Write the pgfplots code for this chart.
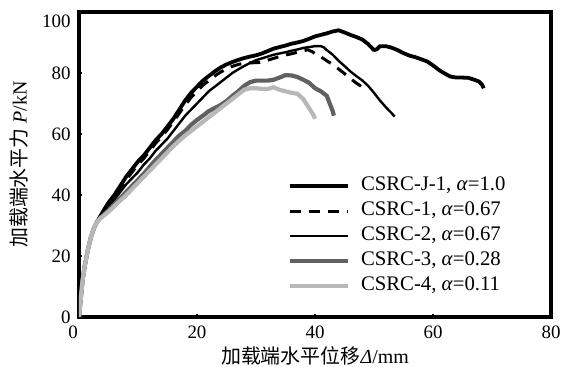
\documentclass[border=0pt]{standalone}
\usepackage{fontspec}
\setmainfont{Liberation Serif}
\newfontfamily\cjk{Noto Sans CJK SC}
\usepackage{pgfplots}
\pgfplotsset{compat=1.18}
\begin{document}
\begin{tikzpicture}
\begin{axis}[
  scale only axis, width=472bp, height=305bp,
  xmin=0, xmax=80, ymin=0, ymax=100,
  xtick={0,20,...,80}, ytick={0,20,...,100},
  xticklabels={\hspace*{-12bp}0,20,40,60,80},
  yticklabels={0,20,40,60,80,\raisebox{-9bp}[\height][\depth]{100}},
  tick pos=left, tick align=inside, major tick length=3.5bp,
  every tick/.style={black, line width=2.2bp},
  axis line style={line width=3.5bp},
  tick label style={font=\fontsize{19}{22}\selectfont},
  xticklabel style={yshift=-5bp},
  yticklabel style={xshift=-5bp},
  /pgf/number format/assume math mode=true,
  xlabel={{\cjk 加载端水平位移}\textit{Δ}/mm},
  ylabel={{\cjk 加载端水平力} \textit{P}/kN},
  label style={font=\fontsize{20}{24}\selectfont},
  xlabel style={yshift=-1bp},
  ylabel style={yshift=7bp},
  legend cell align=left,
  legend image code/.code={\draw[#1] (0bp,0bp) -- (58bp,0bp); \path (69bp,0bp);},
  legend style={at={(0.442,0.459)}, anchor=north west, draw=none, fill=none,
    inner sep=0pt, row sep=6.9bp, column sep=0pt,
    font=\fontsize{20.8}{24}\selectfont,
    nodes={inner sep=0pt, text height=13.5bp, text depth=4.5bp}},
]
\coordinate (O) at (rel axis cs:0,0);
% CSRC-J-1
\addplot[black, line width=3.8bp, line join=round] coordinates {
(0,0)(0.3,6)(0.6,12)(1,17)(1.5,22)(2,26)(2.5,29)(3,31)(3.6,33)(4.2,35)
(5,37.5)(6,40)(7,43)(8,46)(9,48.5)(10,51)(11,53)(12,55.5)(13,58)(14,60)
(15,62.5)(16,65)(17,68)(18,71)(19,73.5)(20,75.5)(21,77.5)(22,79)(23,80.5)
(24,81.8)(25,82.8)(26,83.6)(27,84.3)(28,84.9)(29,85.4)(30,85.8)(31,86.4)
(32,87.2)(33,88)(34,88.5)(35,89)(36,89.6)(37,90)(38,90.5)(39,91.2)(40,92)
(41,92.5)(42,93)(43,93.6)(44,94)(45,93.3)(46,92.5)(47,91.8)(48,91)(49,89.5)
(50,87.5)(50.5,87.8)(51,88.8)(52,88.8)(53,88.3)(54,87.5)(55,86.5)(56,85.7)
(57,85.2)(58,84.5)(59,83.8)(60,82.5)(61,81)(62,79.8)(63,78.8)(64,78.5)
(65,78.5)(66,78.4)(67,77.8)(67.8,77.2)(68.3,76.2)(68.6,75)
};
\addlegendentry{CSRC-J-1, \textit{α}=1.0}
% CSRC-1
\addplot[black, line width=3bp, dash pattern=on 11bp off 8bp] coordinates {
(0,0)(0.3,6)(0.6,12)(1,17)(1.5,22)(2,26)(2.5,29)(3,31)(3.6,33)(4.2,34.8)
(5,37)(6,39.5)(7,42.3)(8,45)(9,47.5)(10,50)(11,52)(12,54.5)(13,57)(14,59)
(15,61.5)(16,64)(17,66.8)(18,69.5)(19,72)(20,74)(21,76)(22,77.5)(23,79)
(24,80.3)(25,81.3)(26,82.2)(27,82.8)(28,83.2)(29,83.3)(30,83.4)(31,83.5)
(32,84.2)(33,84.8)(34,85.4)(35,85.9)(36,86.3)(37,86.8)(38,87.3)(38.8,87.6)
(39.5,87)(40.3,86)(41,85.3)(42,84)(43,82.8)(44,81.3)(45,79.8)(46,78.2)
(47,76.7)(48,75.4)(48.6,74.5)
};
\addlegendentry{CSRC-1, \textit{α}=0.67}
% CSRC-2
\addplot[black, line width=2.4bp] coordinates {
(0,0)(0.3,6)(0.6,12)(1,17)(1.5,22)(2,26)(2.5,29)(3,31)(3.6,33)(4.2,34.5)
(5,36)(6,38.5)(7,41)(8,43.5)(9,45.5)(10,47.5)(11,50)(12,52)(13,54.5)
(14,56.5)(15,58.5)(16,61)(17,63.5)(18,66)(19,68)(20,70)(21,72)(22,74)
(23,75.5)(24,77)(25,78.5)(26,80)(27,81.2)(28,82.3)(29,83.3)(30,84.2)
(31,84.8)(32,85.4)(33,86)(34,86.4)(35,86.8)(36,87.3)(37,87.7)(38,88.2)
(39,88.5)(40,88.8)(41,88.8)(41.5,88.4)(42,87.5)(43,86)(44,84)(45,82.3)
(46,80.5)(47,79)(48,77.6)(49,75.8)(50,73.5)(51,71)(52,68.8)(53,66.8)(53.5,65.7)
};
\addlegendentry{CSRC-2, \textit{α}=0.67}
% CSRC-3
\addplot[black!62, line width=4.2bp] coordinates {
(0,0)(0.3,6)(0.6,12)(1,17)(1.5,22)(2,26)(2.5,29)(3,31)(3.6,32.5)(4.2,33.5)
(5,35)(6,37)(7,39)(8,41)(9,43)(10,45)(11,47)(12,49.3)(13,51.5)(14,53.5)
(15,55.5)(16,57.5)(17,59.5)(18,61)(19,63)(20,64.6)(21,66)(22,67.5)(23,68.5)
(24,69.5)(25,70.8)(26,72.5)(27,74)(28,75.8)(29,77)(30,77.5)(31,77.5)(32,77.5)
(33,77.8)(34,78.5)(35,79.3)(36,79.2)(37,78.7)(38,77.8)(39,76.8)(40,75)
(41,74)(42,72.5)(42.5,70)(43,67.5)(43.2,66)
};
\addlegendentry{CSRC-3, \textit{α}=0.28}
% CSRC-4
\addplot[black!28, line width=4.2bp] coordinates {
(0,0)(0.3,6)(0.6,12)(1,17)(1.5,22)(2,26)(2.5,29)(3,31)(3.6,32.3)(4.2,33.2)
(5,34.5)(6,36.3)(7,38.2)(8,40)(9,42)(10,44)(11,46)(12,48)(13,50)(14,52)
(15,54)(16,56)(17,57.8)(18,59.5)(19,61)(20,62.5)(21,64)(22,65.5)(23,67)
(24,68.5)(25,70)(26,71.5)(27,73)(28,74.5)(29,75)(30,75)(31,74.8)(32,74.8)
(33,75.3)(34,74.5)(35,74)(36,73.5)(37,73.2)(38,71.5)(39,68.5)(39.8,66)(40,65)
};
\addlegendentry{CSRC-4, \textit{α}=0.11}
\end{axis}
\pgfresetboundingbox
\path (O) ++(-79bp,-50bp) rectangle ++(569bp,367bp);
\end{tikzpicture}
\end{document}
